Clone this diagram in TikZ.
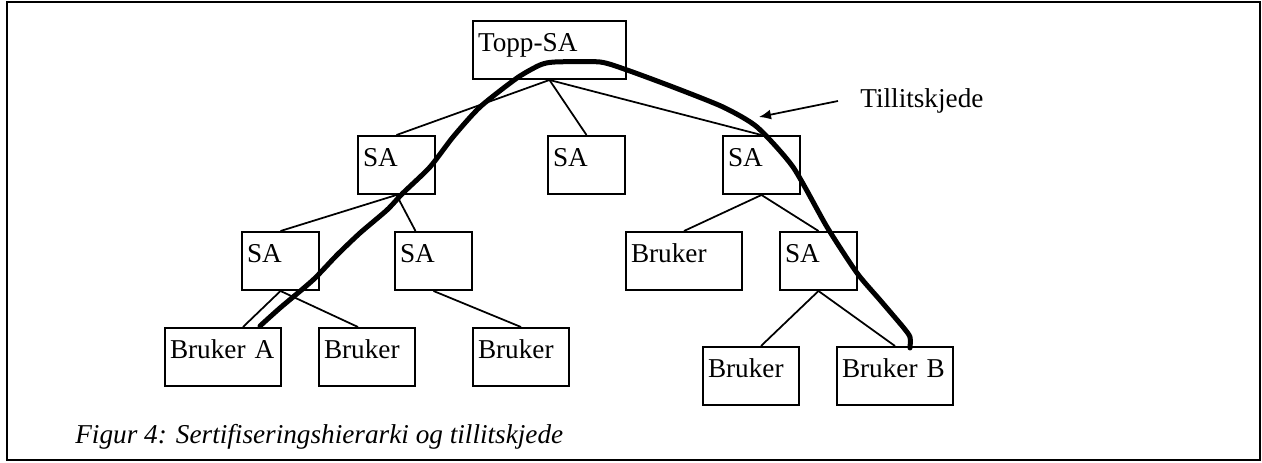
\documentclass[tikz,border=0pt]{standalone}
\usepackage{fontspec}
\setmainfont{Liberation Serif}
\usetikzlibrary{calc,arrows.meta}
\tikzset{>={Latex[length=0.24cm,width=0.2cm]}}
\tikzset{
	boks/.style={draw=black, line width=0.04cm, anchor=north west, align=left, inner xsep=0.1cm, inner ysep=0cm, text height=0.62cm, text depth=0.54cm, font=\fontsize{15.5}{18}\selectfont},
	smal/.style={boks, text width=1.34cm},
	mellom/.style={boks, text width=1.72cm},
	bred/.style={boks, text width=2.12cm},
	kant/.style={line width=0.035cm},
	kjede/.style={line width=0.1cm, line join=round, line cap=round}
}

\begin{document}
\begin{tikzpicture}[x=0.02cm,y=-0.02cm]
			\useasboundingbox (0,0) rectangle (1262,463);
			\draw[line width=0.05cm] (7,2) rectangle (1260,460);

			\node[boks, text width=2.86cm] (topp) at (472,20) {Topp-SA};

			\node[smal] (sa1) at (357,135) {SA};
			\node[smal] (sa2) at (547,135) {SA};
			\node[smal] (sa3) at (722,135) {SA};
			\draw[kant] (topp.south) -- (sa1.north);
			\draw[kant] (topp.south) -- (sa2.north);
			\draw[kant] (topp.south) -- (sa3.north);

			\node[smal] (sa4) at (241,231) {SA};
			\node[smal] (sa5) at (394,231) {SA};
			\node[bred] (bruker3) at (625,231) {Bruker};
			\node[smal] (sa6) at (779,231) {SA};
			\draw[kant] (sa1.south) -- (sa4.north);
			\draw[kant] (sa1.south) -- ([xshift=-0.36cm]sa5.north);
			\draw[kant] (sa3.south) -- (bruker3.north);
			\draw[kant] (sa3.south) -- (sa6.north);

			\node[bred] (brukerA) at (164,327) {Bruker A};
			\node[mellom] (bruker1) at (318,327) {Bruker};
			\node[mellom] (bruker2) at (472,327) {Bruker};
			\draw[kant] (sa4.south) -- ([xshift=0.4cm]brukerA.north);
			\draw[kant] (sa4.south) -- ([xshift=-0.18cm]bruker1.north);
			\draw[kant] (sa5.south) -- (bruker2.north);

			\node[mellom] (bruker4) at (702,346) {Bruker};
			\node[bred] (brukerB) at (836,346) {Bruker B};
			\draw[kant] (sa6.south) -- ([xshift=0.2cm]bruker4.north);
			\draw[kant] (sa6.south) -- (brukerB.north);

			% tillitskjeden fra Bruker A til Bruker B
			\draw[kjede] plot[smooth, tension=0.4] coordinates {(260,326) (280,308) (313,280) (337,255) (360,233) (387,210) (403,193) (430,167) (453,137) (480,107) (517,78) (540,65) (555,62) (600,62) (627,70) (673,87) (723,107) (757,127) (793,167) (827,227) (857,273) (880,300) (903,327) (910,337) (910,348)};

			\node[font=\fontsize{15.5}{18}\selectfont, anchor=west, inner xsep=0.44cm] (tillit) at (838,101) {Tillitskjede};
			\coordinate (kjedepunkt) at (759,117);
			\draw[->, kant] (tillit.west) -- (kjedepunkt);

			\node[font=\fontsize{15.5}{18}\selectfont\itshape, anchor=base west, inner sep=0cm] (figur) at (75,443) {Figur 4: Sertifiseringshierarki og tillitskjede};
		\end{tikzpicture}
\end{document}
